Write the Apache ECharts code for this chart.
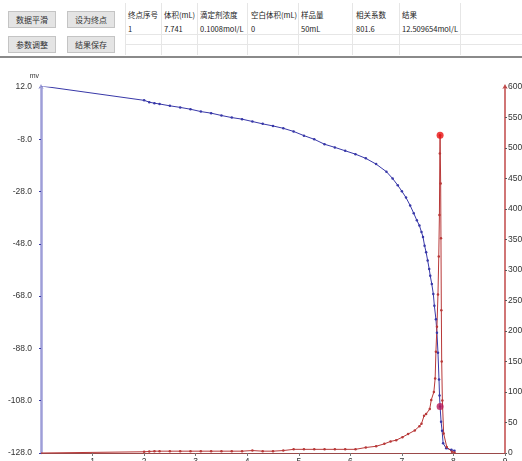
<!DOCTYPE html>
<html><head><meta charset="utf-8">
<script src="https://cdn.jsdelivr.net/npm/echarts@6/dist/echarts.min.js"></script>
<style>
html,body{margin:0;padding:0;background:#fff;width:522px;height:461px;overflow:hidden;font-family:"Noto Sans CJK SC","Liberation Sans",sans-serif;}
#toppanel{position:absolute;left:0;top:0;width:522px;height:56px;background:#fff;border-bottom:2px solid #8a8a8a;}
.btn{position:absolute;width:46px;height:15px;background:#e4e4e4;border:1px solid #c4c4c4;font-size:8px;line-height:15px;text-align:center;color:#333;}
.cell{position:absolute;font-size:7.5px;color:#222;white-space:nowrap;line-height:9px;}
.vl{position:absolute;top:3px;width:1px;height:52px;background:#e6e6e6;}
.hl{position:absolute;left:125px;width:397px;height:1px;background:#e6e6e6;}
#chart{position:absolute;left:0;top:0;width:522px;height:461px;}
</style></head>
<body>
<div id="chart"></div>
<div id="toppanel"></div>
<script>
// ---- data ----
const volumeBlue = [0, 2.0, 2.1, 2.2, 2.3, 2.5, 2.7, 2.9, 3.1, 3.3, 3.5, 3.7, 3.9, 4.1, 4.3, 4.5, 4.7, 4.9, 5.1, 5.3, 5.5, 5.7, 5.9, 6.1, 6.3, 6.5, 6.7, 6.82, 6.92, 7.0, 7.08, 7.16, 7.23, 7.29, 7.34, 7.38, 7.41, 7.44, 7.47, 7.50, 7.53, 7.55, 7.58, 7.61, 7.63, 7.66, 7.68, 7.70, 7.72, 7.73, 7.741, 7.76, 7.78, 7.80, 7.86, 7.96, 8.02];
const potentialMv = [12.4, 6.9, 6.2, 5.8, 5.5, 4.8, 4.2, 3.5, 2.6, 2.0, 1.1, 0.3, -0.3, -1.2, -2.1, -2.9, -3.8, -5.0, -6.6, -8.0, -9.9, -11.1, -12.4, -13.7, -15.3, -17.5, -20.4, -23.0, -25.6, -27.9, -30.3, -33.3, -36.3, -39.0, -41.0, -43.5, -45.4, -48.7, -51.2, -54.4, -57.6, -60.2, -63.4, -67.2, -71.7, -76.8, -82.0, -89.7, -99.9, -106.0, -110.2, -116.0, -119.5, -124.3, -126.2, -126.8, -127.1];
const volumeRed = [0, 2.0, 2.1, 2.2, 2.3, 2.5, 2.7, 2.9, 3.1, 3.3, 3.5, 3.7, 3.9, 4.1, 4.3, 4.5, 4.7, 4.9, 5.1, 5.3, 5.5, 5.7, 5.9, 6.1, 6.3, 6.5, 6.66, 6.78, 6.89, 7.01, 7.12, 7.25, 7.34, 7.38, 7.43, 7.47, 7.54, 7.57, 7.62, 7.645, 7.66, 7.68, 7.70, 7.715, 7.728, 7.736, 7.741, 7.752, 7.758, 7.765, 7.772, 7.785, 7.81, 7.87, 7.97, 8.02];
const derivative = [0, 2, 2.5, 3, 3, 3, 3, 3, 3, 3, 3, 3, 3, 4, 3, 3, 4, 6, 6, 6, 6, 6, 6, 6, 9, 11, 15, 19, 21, 26, 31, 37, 44, 48, 61, 64, 72, 87, 100, 122, 166, 207, 260, 322, 390, 491, 521, 442, 352, 234, 150, 86, 32, 10, 2, 1];
const endpointVolume = 7.741;
const endpointMv = -110.2;
const endpointDeriv = 521;
const leftTicks = [-128, -108, -88, -68, -48, -28, -8, 12];

const buttons = [['数据平滑', 8, 11], ['设为终点', 67, 11], ['参数调整', 8, 36], ['结果保存', 67, 36]];
const headers = ['终点序号', '体积(mL)', '滴定剂浓度', '空白体积(mL)', '样品量', '相关系数', '结果'];
const rowValues = ['1', '7.741', '0.1008mol/L', '0', '50mL', '801.6', '12.509654mol/L'];
const colX = [128, 164, 200, 251, 301, 356, 402];
const colLines = [125, 161, 197, 247, 298, 352, 399, 460];

// ---- top panel ----
const panel = document.getElementById('toppanel');
buttons.forEach(b => {
  const d = document.createElement('div'); d.className = 'btn';
  d.style.left = b[1] + 'px'; d.style.top = b[2] + 'px'; d.textContent = b[0]; panel.appendChild(d);
});
colLines.forEach(x => { const d = document.createElement('div'); d.className = 'vl'; d.style.left = x + 'px'; panel.appendChild(d); });
[34, 44].forEach(y => { const d = document.createElement('div'); d.className = 'hl'; d.style.top = y + 'px'; panel.appendChild(d); });
headers.forEach((h, i) => {
  const d = document.createElement('div'); d.className = 'cell';
  d.style.left = colX[i] + 'px'; d.style.top = '10px'; d.textContent = h; panel.appendChild(d);
});
rowValues.forEach((h, i) => {
  const d = document.createElement('div'); d.className = 'cell';
  d.style.left = colX[i] + 'px'; d.style.top = '24px'; d.textContent = h; panel.appendChild(d);
});

// ---- chart ----
const blueData = volumeBlue.map((v, i) => i === 0 ? { value: [v, potentialMv[i]], symbol: 'none' } : [v, potentialMv[i]]);
const redData = volumeRed.map((v, i) => i === 0 ? { value: [v, derivative[i]], symbol: 'none' } : [v, derivative[i]]);
const labelFont = { fontFamily: 'Liberation Sans', fontSize: 8.5, color: '#333' };
const chart = echarts.init(document.getElementById('chart'), null, { renderer: 'canvas' });
chart.setOption({
  animation: false,
  backgroundColor: '#fff',
  grid: { left: 41, right: 17, top: 87, bottom: 8, containLabel: false, outerBoundsMode: 'none' },
  xAxis: {
    type: 'value', min: 0, max: 9, interval: 1,
    splitLine: { show: false },
    axisLine: { onZero: false, lineStyle: { color: '#9a4a4a', width: 1 } },
    axisTick: { show: true, length: 3, lineStyle: { color: '#777' } },
    axisLabel: Object.assign({ margin: 4, showMinLabel: false }, labelFont)
  },
  yAxis: [{
    type: 'value', min: -128, max: 12, position: 'left',
    name: 'mv', nameLocation: 'end', nameGap: 7,
    nameTextStyle: { fontFamily: 'Liberation Sans', fontSize: 7, color: '#333', align: 'right', padding: [0, 2, 0, 0] },
    splitLine: { show: false },
    axisLine: { show: true, onZero: false, symbol: ['none', 'arrow'], symbolSize: [4, 5], symbolOffset: [0, 3], lineStyle: { color: '#9e9ed8', width: 2.5 } },
    axisTick: { show: true, length: 2, customValues: leftTicks, lineStyle: { color: '#3a3aa8' } },
    axisLabel: Object.assign({ margin: 9, customValues: leftTicks, formatter: v => v.toFixed(1) }, labelFont)
  }, {
    type: 'value', min: 0, max: 600, interval: 50, position: 'right',
    splitLine: { show: false },
    axisLine: { show: true, onZero: false, symbol: ['none', 'arrow'], symbolSize: [4, 5], symbolOffset: [0, 3], lineStyle: { color: '#c04848', width: 1.5 } },
    axisTick: { show: true, length: 2, lineStyle: { color: '#555' } },
    axisLabel: Object.assign({ margin: 3 }, labelFont)
  }],
  series: [{
    type: 'line', yAxisIndex: 0, data: blueData,
    symbol: 'circle', symbolSize: 2.5, showAllSymbol: true,
    lineStyle: { color: '#3838a8', width: 1 }, itemStyle: { color: '#3838a8' }
  }, {
    type: 'line', yAxisIndex: 1, data: redData,
    symbol: 'circle', symbolSize: 2.5, showAllSymbol: true,
    lineStyle: { color: '#b83838', width: 1 }, itemStyle: { color: '#b83838' }
  }, {
    type: 'scatter', yAxisIndex: 1, data: [[endpointVolume, endpointDeriv]],
    symbolSize: 7, itemStyle: { color: '#e81010' }, z: 5
  }, {
    type: 'scatter', yAxisIndex: 0, data: [[endpointVolume, endpointMv]],
    symbolSize: 7, itemStyle: { color: '#b81a5a' }, z: 5
  }]
});
</script>
</body></html>
